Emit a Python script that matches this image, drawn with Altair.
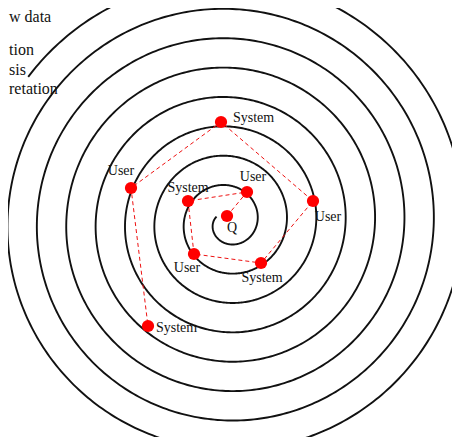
import numpy as np
import pandas as pd
import altair as alt

# --- data (reference pixel coordinates) ---
point_labels = ["Q", "User", "System", "User", "System", "User", "System", "User", "System"]
point_x = [227, 247, 188, 194, 261, 313, 221, 131, 148]
point_y = [216, 192, 201, 254, 263, 201, 122, 188, 326]

legend_lines = ["w data", "tion", "sis", "retation"]
legend_y = [17, 50, 70, 89]

# spiral parameters (Archimedean spiral r = b * t)
CX, CY = 228, 222
TURN_SPACING = 29.4
T_START, T_END = 2.7, 2 * np.pi * 8.4

b = TURN_SPACING / (2 * np.pi)
t = np.linspace(T_START, T_END, 3000)
r = b * t
spiral = pd.DataFrame({"x": CX + r * np.cos(t), "y": CY - r * np.sin(t), "o": np.arange(len(t))})

pts = pd.DataFrame({"x": point_x, "y": point_y, "label": point_labels, "o": range(len(point_x))})
leg = pd.DataFrame({"text": legend_lines, "y": legend_y, "x": [9] * len(legend_lines)})

X0, X1, Y0, Y1 = 8, 452, 8, 437
xs = alt.Scale(domain=[X0, X1], nice=False, zero=False)
ys = alt.Scale(domain=[Y0, Y1], nice=False, zero=False, reverse=True)
X = lambda: alt.X("x:Q", scale=xs, axis=None)
Y = lambda: alt.Y("y:Q", scale=ys, axis=None)

spiral_layer = alt.Chart(spiral).mark_line(color="#111111", strokeWidth=1.9, clip=True).encode(
    x=X(), y=Y(), order="o:Q")

path_layer = alt.Chart(pts).mark_line(color="#ee1111", strokeWidth=1, strokeDash=[4, 3]).encode(
    x=X(), y=Y(), order="o:Q")

dot_layer = alt.Chart(pts).mark_circle(color="#ff0000", opacity=1, size=150).encode(x=X(), y=Y())

# label placement per point (offsets in px)
offsets = [
    (5, 12, "center"),
    (6, -15, "center"),
    (0, -13, "center"),
    (-7, 14, "center"),
    (1, 15, "center"),
    (15, 16, "center"),
    (12, -4, "left"),
    (-10, -17, "center"),
    (8, 2, "left"),
]
text_layers = []
for i, (dx, dy, al) in enumerate(offsets):
    text_layers.append(
        alt.Chart(pts.iloc[[i]]).mark_text(
            dx=dx, dy=dy, align=al, baseline="middle", font="Liberation Serif",
            fontSize=14, color="#111111"
        ).encode(x=X(), y=Y(), text="label:N")
    )

legend_layer = alt.Chart(leg).mark_text(
    align="left", baseline="middle", font="Liberation Serif", fontSize=16, color="#111111"
).encode(x=X(), y=Y(), text="text:N")

chart = alt.layer(spiral_layer, path_layer, dot_layer, *text_layers, legend_layer).properties(
    width=X1 - X0, height=Y1 - Y0, autosize=alt.AutoSizeParams(type="none"), padding=0,
    background="white"
).configure_view(stroke=None)

chart.save("out.html", embed_options={"renderer": "svg", "actions": False})
